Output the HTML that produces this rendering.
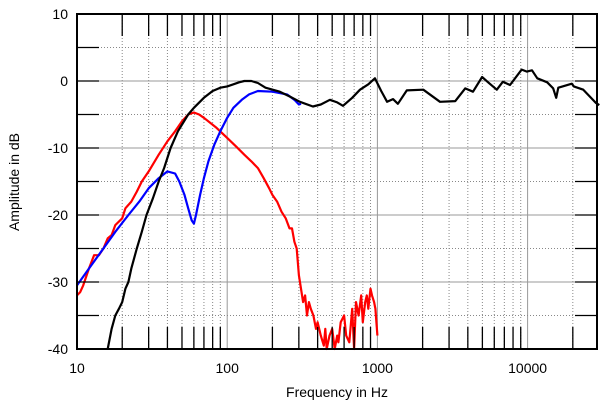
<!DOCTYPE html>
<html><head><meta charset="utf-8"><style>
body{margin:0;background:#fff;}
svg{display:block;font-family:"Liberation Sans",Arial,sans-serif;}
</style></head><body>
<svg id="chart" width="600" height="404" viewBox="0 0 600 404">
<g id="grid"></g>
<g id="series"></g>
<g id="frame"></g>
<text x="337" y="397" text-anchor="middle" font-size="14">Frequency in Hz</text>
<text transform="translate(19,182) rotate(-90)" text-anchor="middle" font-size="14">Amplitude in dB</text>
</svg>
<script>
const xTickValues=[10,100,1000,10000];
const xTickLabels=["10","100","1000","10000"];
const yTickValues=[10,0,-10,-20,-30,-40];
const yTickLabels=["10","0","-10","-20","-30","-40"];
const blackFreq=[16,17,18,19,20,21,22,23,25,27,29,32,35,38,42,47,55,60,70,80,90,100,110,120,130,145,160,180,224,260,305,372,420,483,540,590,680,766,870,962,1060,1160,1270,1370,1570,2020,2610,3300,3840,4330,4980,5460,6240,6850,7630,9140,9900,10700,11600,13500,14800,15500,16000,17100,19700,20300,23500,28600,30000];
const blackDb=[-40,-37,-35,-34,-33,-31,-30,-28,-25,-22.5,-20,-17.5,-15,-13,-10,-7.5,-5,-4,-2.5,-1.5,-1,-0.8,-0.5,-0.2,0,0,-0.3,-1,-1.6,-2.3,-3.1,-3.8,-3.5,-2.8,-3.2,-3.7,-2.5,-1.3,-0.5,0.4,-1.5,-3.1,-2.7,-3.4,-1.4,-1.3,-3.1,-3,-1.1,-1.6,0.6,-0.2,-1.3,-0.1,-0.6,1.7,1.4,1.6,0.4,-0.2,-1.1,-2.5,-1,-0.8,-0.4,-0.8,-1.3,-3.3,-3.6];
const blueFreq=[10,12,15,18,22,26,30,35,40,45,48,52,55,58,60,62,66,70,75,82,90,100,110,125,140,160,200,250,280,300,310];
const blueDb=[-30.5,-28,-25,-22.5,-20,-18,-16,-14.5,-13.5,-13.8,-15,-17,-19,-20.8,-21.3,-20,-17,-14.5,-12,-9.5,-7.5,-5.5,-4,-2.8,-2,-1.5,-1.6,-2,-2.8,-3.5,-3.4];
const redFreq=[10,10.5,11,12,13,14,15,16,17,18,20,21,23,25,27,30,35,40,45,50,55,60,65,70,85,100,115,130,145,160,175,190,200,215,230,245,260,270,280,290,300,310,320,330,340,350,360,375,390,400,420,440,450,460,480,500,520,540,550,570,600,620,650,680,700,720,750,780,800,830,850,870,900,920,950,970,1000];
const redDb=[-32,-31.5,-30.5,-28,-26,-26,-25,-23.5,-23,-21.5,-20.5,-19,-18,-16.5,-15,-13.5,-11,-9,-7.5,-6,-5,-4.7,-5,-5.5,-7,-8.5,-9.8,-11,-12,-13,-14.5,-16,-17,-18,-19.5,-20.5,-22,-22,-24,-25,-29,-31,-33,-32,-35,-33,-34,-35,-37,-36,-38,-39.5,-37,-40,-38,-37,-40,-38,-39,-36,-35,-38,-39,-34,-40,-33,-35,-32,-36,-33,-32,-34,-31,-32,-33,-34,-38];
const X0=77,X1=597,Y0=14,Y1=349,DEC=150.2;
const xs=f=>X0+(Math.log10(f)-1)*DEC;
const ys=d=>Y0+(10-d)*(Y1-Y0)/50;
const NS="http://www.w3.org/2000/svg";
function mk(tag,attrs,parent){const e=document.createElementNS(NS,tag);for(const k in attrs)e.setAttribute(k,attrs[k]);parent.appendChild(e);return e;}
const grid=document.getElementById('grid'),frame=document.getElementById('frame'),series=document.getElementById('series'),svg=document.getElementById('chart');
for(let d=10;d<=10000;d*=10){for(let m=1;m<=9;m++){const f=d*m;const x=xs(f);if(x>X1)break;
 const major=(m===1);
 const l=mk('line',{x1:x,y1:Y0,x2:x,y2:Y1,stroke:major?'#999':'#888','stroke-width':1,'stroke-dasharray':major?'':'1,2'},grid);
 
 if(m>1){const t1=mk('line',{x1:x,y1:Y0,x2:x,y2:Y0+22,stroke:'#000','stroke-width':1.3},frame);
 const t2=mk('line',{x1:x,y1:Y1,x2:x,y2:Y1-22,stroke:'#000','stroke-width':1.3},frame);}
}}
for(let d=10;d>=-40;d-=5){const y=ys(d);const major=(d%10===0);
 const l=mk('line',{x1:X0,y1:y,x2:X1,y2:y,stroke:major?'#999':'#888','stroke-width':1,'stroke-dasharray':major?'':'1,2'},grid);
 
 const t1=mk('line',{x1:X0,y1:y,x2:X0+22,y2:y,stroke:'#000','stroke-width':1.3},frame);
 const t2=mk('line',{x1:X1,y1:y,x2:X1-22,y2:y,stroke:'#000','stroke-width':1.3},frame);}
const r=mk('rect',{x:X0,y:Y0,width:X1-X0,height:Y1-Y0,fill:'none',stroke:'#000','stroke-width':2},frame);

xTickValues.forEach((v,i)=>{const t=mk('text',{x:xs(v),y:373,'text-anchor':'middle','font-size':14},svg);t.textContent=xTickLabels[i];
 });
yTickValues.forEach((v,i)=>{const t=mk('text',{x:68,y:ys(v)+5,'text-anchor':'end','font-size':14},svg);t.textContent=yTickLabels[i];
 });
function line(fr,db,col,name){const clip=v=>Math.max(-40,v);const d=fr.map((f,i)=>(i?'L':'M')+xs(f).toFixed(1)+','+ys(clip(db[i])).toFixed(1)).join('');
 const p=mk('path',{d:d,fill:'none',stroke:col,'stroke-width':2.2,'stroke-linejoin':'round'},series);
 }
line(redFreq,redDb,'#f00','red-series');
line(blueFreq,blueDb,'#00f','blue-series');
line(blackFreq,blackDb,'#000','black-series');
</script>
</body></html>
